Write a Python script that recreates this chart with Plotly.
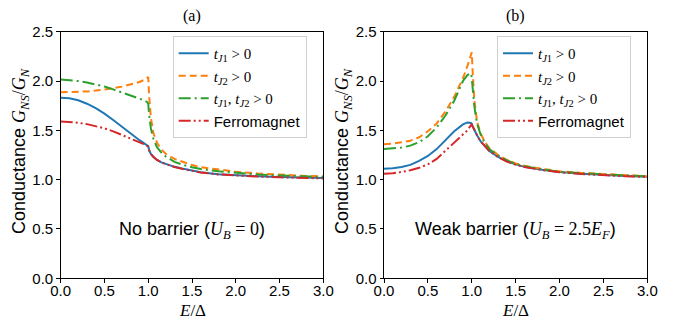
import plotly.graph_objects as go

# ---------------- data ----------------
E = [0, 0.1, 0.2, 0.3, 0.4, 0.5, 0.6, 0.7, 0.8, 0.9, 0.95, 0.99, 1.0, 1.01, 1.03,
     1.06, 1.1, 1.15, 1.2, 1.3, 1.4, 1.5, 1.6, 1.8, 2.0, 2.25, 2.5, 2.75, 3.0]

# panel (a): no barrier
a_tJ1 = [1.83, 1.825, 1.805, 1.77, 1.725, 1.67, 1.605, 1.535, 1.465, 1.40, 1.37, 1.345, 1.34,
         1.30, 1.26, 1.23, 1.20, 1.175, 1.16, 1.13, 1.11, 1.09, 1.075, 1.055, 1.045, 1.035,
         1.028, 1.022, 1.017]
a_tJ2 = [1.885, 1.887, 1.89, 1.895, 1.903, 1.913, 1.927, 1.943, 1.963, 1.99, 2.01, 2.035, 2.04,
         1.85, 1.63, 1.47, 1.375, 1.305, 1.262, 1.21, 1.175, 1.148, 1.127, 1.10, 1.08, 1.063,
         1.05, 1.04, 1.033]
a_both = [2.015, 2.01, 2.0, 1.985, 1.965, 1.945, 1.915, 1.885, 1.855, 1.825, 1.805, 1.785, 1.77,
          1.66, 1.52, 1.41, 1.33, 1.275, 1.235, 1.18, 1.148, 1.125, 1.108, 1.085, 1.068, 1.053,
          1.042, 1.034, 1.028]
a_ferro = [1.59, 1.586, 1.577, 1.563, 1.545, 1.52, 1.49, 1.455, 1.42, 1.38, 1.36, 1.34, 1.335,
           1.30, 1.26, 1.23, 1.20, 1.175, 1.158, 1.128, 1.107, 1.088, 1.073, 1.053, 1.042, 1.032,
           1.024, 1.018, 1.013]

# panel (b): weak barrier
b_tJ1 = [1.11, 1.115, 1.128, 1.15, 1.19, 1.24, 1.31, 1.40, 1.49, 1.56, 1.58, 1.575, 1.565,
         1.54, 1.50, 1.45, 1.39, 1.335, 1.29, 1.23, 1.185, 1.155, 1.13, 1.10, 1.077, 1.06,
         1.047, 1.037, 1.03]
b_tJ2 = [1.36, 1.365, 1.38, 1.395, 1.43, 1.49, 1.57, 1.69, 1.84, 2.03, 2.15, 2.27, 2.29,
         2.10, 1.80, 1.59, 1.47, 1.38, 1.32, 1.25, 1.20, 1.165, 1.14, 1.11, 1.085, 1.068,
         1.055, 1.045, 1.035]
b_both = [1.31, 1.315, 1.325, 1.345, 1.38, 1.44, 1.53, 1.65, 1.80, 2.00, 2.06, 2.08, 2.04,
          1.93, 1.74, 1.57, 1.46, 1.37, 1.31, 1.245, 1.195, 1.16, 1.135, 1.105, 1.08, 1.065,
          1.052, 1.042, 1.033]
b_ferro = [1.06, 1.064, 1.078, 1.095, 1.12, 1.155, 1.21, 1.29, 1.37, 1.45, 1.50, 1.55, 1.56,
           1.54, 1.50, 1.45, 1.39, 1.335, 1.29, 1.228, 1.183, 1.152, 1.128, 1.098, 1.075,
           1.058, 1.045, 1.035, 1.028]

x_ticks = [0.0, 0.5, 1.0, 1.5, 2.0, 2.5, 3.0]
y_ticks = [0.0, 0.5, 1.0, 1.5, 2.0, 2.5]

SERIF = "Liberation Serif"
SANS = "Liberation Sans"

def m(s):
    return f"<span style='font-family:{SERIF}'>{s}</span>"

names = [
    m("<i>t</i><sub><i>J</i>1</sub> &gt; 0"),
    m("<i>t</i><sub><i>J</i>2</sub> &gt; 0"),
    m("<i>t</i><sub><i>J</i>1</sub>, <i>t</i><sub><i>J</i>2</sub> &gt; 0"),
    "Ferromagnet",
]
colors = ["#1f77b4", "#ff7f0e", "#2ca02c", "#d62728"]
dashes = ["solid", "7px,4px", "12px,4px,2px,4px", "12px,3px,2px,3px,2px,3px"]

fig = go.Figure()
panels = [([a_tJ1, a_tJ2, a_both, a_ferro], "x", "y", "legend"),
          ([b_tJ1, b_tJ2, b_both, b_ferro], "x2", "y2", "legend2")]
for series, xa, ya, lg in panels:
    for s, nm, c, d in zip(series, names, colors, dashes):
        fig.add_trace(go.Scatter(x=E, y=s, mode="lines", name=nm, xaxis=xa, yaxis=ya,
                                 legend=lg, line=dict(color=c, width=2, dash=d)))

# page body has an 8px margin: figure is sized to fit the 673x322 window
OFF = 8
W, H = 673 - OFF, 322 - OFF

def px(x):
    return (x - OFF) / W

def py(y):
    return (H - (y - OFF)) / H

xl = [px(60.7), px(323.3)]
xr = [px(384), px(647.3)]
yd = [py(278.3), py(31.7)]

axis_common = dict(showline=True, linecolor="black", linewidth=1, mirror=True,
                   ticks="outside", ticklen=3.5, tickwidth=1, tickcolor="black",
                   showgrid=False, zeroline=False, automargin=False,
                   tickfont=dict(family=SANS, size=15, color="black"), tickformat=".1f")

leg_common = dict(xanchor="left", yanchor="top", bgcolor="white",
                  bordercolor="#d0d0d0", borderwidth=1,
                  font=dict(family=SANS, size=15, color="black"))

fig.update_layout(
    width=W, height=H, margin=dict(l=0, r=0, t=0, b=0, autoexpand=False),
    paper_bgcolor="white", plot_bgcolor="white",
    font=dict(family=SANS, size=15, color="black"),
    xaxis=dict(domain=xl, range=[0, 3], tickvals=x_ticks, anchor="y",
               ticklabelstandoff=-5, **axis_common),
    yaxis=dict(domain=yd, range=[0, 2.5], tickvals=y_ticks, anchor="x", **axis_common),
    xaxis2=dict(domain=xr, range=[0, 3], tickvals=x_ticks, anchor="y2",
                ticklabelstandoff=-5, **axis_common),
    yaxis2=dict(domain=yd, range=[0, 2.5], tickvals=y_ticks, anchor="x2", **axis_common),
    legend=dict(x=px(172.7), y=py(36), **leg_common),
    legend2=dict(x=px(497), y=py(36), **leg_common),
)

ylab = "Conductance " + m("<i>G</i><sub><i>NS</i></sub>/<i>G</i><sub><i>N</i></sub>")
ann = []
for (dom, title, note, xa, ya, ylx) in [
        (xl, "(a)", "No barrier (" + m("<i>U</i><sub><i>B</i></sub> = 0") + ")", "x", "y", 20),
        (xr, "(b)", "Weak barrier (" + m("<i>U</i><sub><i>B</i></sub> = 2.5<i>E</i><sub><i>F</i></sub>") + ")", "x2", "y2", 343)]:
    cx = (dom[0] + dom[1]) / 2
    ann.append(dict(text=title, x=cx, y=py(16), xref="paper", yref="paper",
                    showarrow=False, xanchor="center", yanchor="middle",
                    font=dict(family=SERIF, size=16, color="black")))
    ann.append(dict(text=m("<i>E</i>/Δ"), x=cx, y=py(310), xref="paper", yref="paper",
                    showarrow=False, xanchor="center", yanchor="middle",
                    font=dict(family=SERIF, size=17, color="black")))
    ann.append(dict(text=ylab, x=px(ylx), y=py(151), xref="paper", yref="paper",
                    showarrow=False, xanchor="center", yanchor="middle", textangle=-90,
                    font=dict(family=SANS, size=18, color="black")))
    ann.append(dict(text=note, x=1.5, y=0.48, xref=xa, yref=ya, showarrow=False,
                    xanchor="center", yanchor="middle",
                    font=dict(family=SANS, size=18, color="black")))
fig.update_layout(annotations=ann)

fig.write_html("out.html")
